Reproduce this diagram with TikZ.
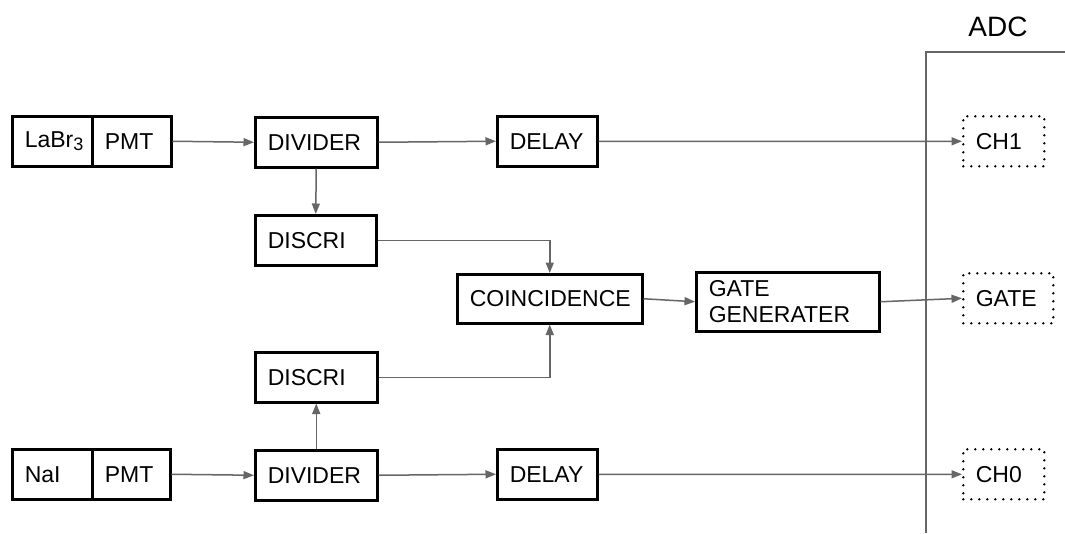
\documentclass[tikz,border=0pt]{standalone}
\usepackage{fontspec}
\setmainfont{Liberation Sans}
\usetikzlibrary{arrows.meta}
\tikzset{
  blk/.style={draw=black, line width=2.5pt, rectangle, anchor=north west,
    inner xsep=12.5pt, inner ysep=0pt, align=left,
    font=\fontsize{23}{26}\selectfont},
  dotbox/.style={blk, line width=2.6pt, dash pattern=on 0pt off 8pt, line cap=round},
  conn/.style={draw=black!60, line width=1.5pt,
    -{Triangle[length=10.5pt,width=8pt]}},
  plain/.style={draw=black!60, line width=1.5pt}
}
\begin{document}
\begin{tikzpicture}[x=1pt,y=-1pt]
\fill[white] (0,0) rectangle (1065,533);
\useasboundingbox (0,0) rectangle (1065,533);
% top chain
\node[blk, minimum width=80pt, minimum height=50pt, text width=55pt] (labr) at (11,115) {LaBr\raisebox{-2.5pt}{\fontsize{18}{18}\selectfont 3}};
\node[blk, minimum width=79pt, minimum height=50pt, text width=54pt] (pmta) at (91,115) {PMT};
\node[blk, minimum width=122pt, minimum height=50pt, text width=97pt] (diva) at (254,116) {DIVIDER};
\node[blk, minimum width=121pt, minimum height=50pt, text width=96pt] (disca) at (254,214) {DISCRI};
\node[blk, minimum width=100pt, minimum height=50pt, text width=75pt] (dela) at (496,115) {DELAY};
% middle
\node[blk, minimum width=185pt, minimum height=49pt, text width=160pt] (coin) at (456,273) {COINCIDENCE};
\node[blk, minimum width=183pt, minimum height=59pt, text width=158pt] (ggen) at (695,271) {GATE\\GENERATER};
% bottom chain
\node[blk, minimum width=122pt, minimum height=50pt, text width=97pt] (discb) at (254,351) {DISCRI};
\node[blk, minimum width=80pt, minimum height=50pt, text width=55pt] (nai) at (11,448) {NaI};
\node[blk, minimum width=78pt, minimum height=50pt, text width=53pt] (pmtb) at (91,448) {PMT};
\node[blk, minimum width=122pt, minimum height=50pt, text width=97pt] (divb) at (254,449) {DIVIDER};
\node[blk, minimum width=100pt, minimum height=50pt, text width=75pt] (delb) at (496,448) {DELAY};
% ADC
\coordinate (adcbot) at (926,533);
\coordinate (adccorner) at (926,52);
\coordinate (adcright) at (1065,52);
\draw[plain] (adcbot) -- (adccorner) -- (adcright);
\node[font=\fontsize{28}{30}\selectfont] (adc) at (998,27) {ADC};
\node[dotbox, minimum width=81pt, minimum height=50pt, text width=56pt] (ch1) at (962,115) {CH1};
\node[dotbox, minimum width=90pt, minimum height=50pt, text width=65pt] (gate) at (962,272) {GATE};
\node[dotbox, minimum width=81pt, minimum height=50pt, text width=56pt] (ch0) at (962,448) {CH0};
% connectors
\draw[conn] (pmta.east) -- (diva.west);
\draw[conn] (diva.east) -- (dela.west);
\draw[conn] (dela.east) -- (ch1.west);
\draw[conn] (diva.south) -- (disca.north);
\draw[conn] (disca.east) -| (coin.north);
\draw[conn] (discb.east) -| (coin.south);
\draw[conn] (coin.east) -- (ggen.west);
\draw[conn] (ggen.east) -- (gate.west);
\draw[conn] (divb.north) -- (discb.south);
\draw[conn] (pmtb.east) -- (divb.west);
\draw[conn] (divb.east) -- (delb.west);
\draw[conn] (delb.east) -- (ch0.west);
\end{tikzpicture}
\end{document}
